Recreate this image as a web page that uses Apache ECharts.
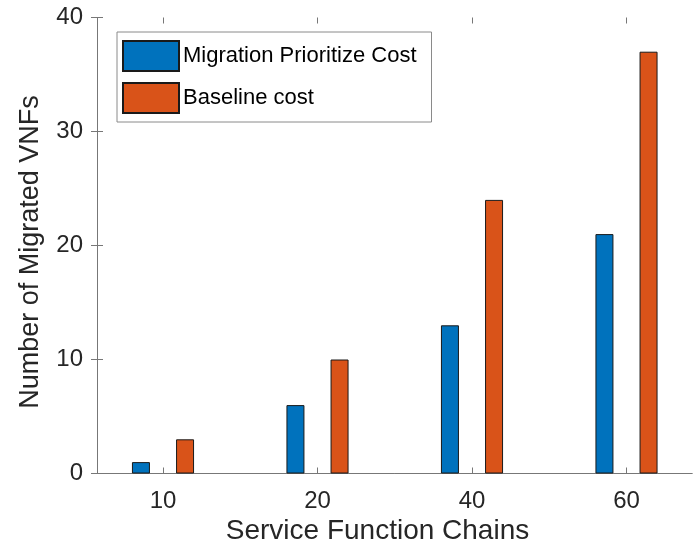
<!DOCTYPE html>
<html>
<head>
<meta charset="utf-8">
<script src="https://cdn.jsdelivr.net/npm/echarts@6/dist/echarts.min.js"></script>
<style>
  html, body { margin: 0; padding: 0; background: #fff; }
  #chart { width: 694px; height: 546px; }
</style>
</head>
<body>
<div id="chart"></div>
<script>
// Number of SFCs on the x axis
var categories = ['10', '20', '40', '60'];
// Migrated VNF counts per strategy
var migrationPrioritize = [1, 6, 13, 21];
var baselineCost = [3, 10, 24, 37];
// Y tick values
var yTicks = [0, 10, 20, 30, 40];

var seriesNames = ['Migration Prioritize Cost', 'Baseline cost'];
var FONT = 'Liberation Sans, Arial, Helvetica, sans-serif';
var TEXT = '#262626';
var AXIS = '#777777';

var plot = { left: 97, top: 17.5, width: 595, height: 456 };
// bars sit on a category scale whose band is wider than the box
var band = 154.5;
var firstCenter = 163;
var barGrid = { left: firstCenter - band / 2, top: plot.top, width: band * categories.length, height: plot.height };

var chart = echarts.init(document.getElementById('chart'), null, { renderer: 'canvas' });

var yMin = yTicks[0], yMax = yTicks[yTicks.length - 1], yStep = yTicks[1] - yTicks[0];

var option = {
  animation: false,
  backgroundColor: '#ffffff',
  textStyle: { fontFamily: FONT },
  grid: [
    { left: plot.left, top: plot.top, width: plot.width, height: plot.height,
      containLabel: false, outerBoundsMode: 'none' },
    { left: barGrid.left, top: barGrid.top, width: barGrid.width, height: barGrid.height,
      containLabel: false, outerBoundsMode: 'none' }
  ],
  xAxis: [
    // box: bottom edge
    { gridIndex: 0, type: 'value', min: 0, max: 1, position: 'bottom',
      axisLine: { show: true, lineStyle: { color: AXIS, width: 1 } },
      axisTick: { show: false }, axisLabel: { show: false }, splitLine: { show: false } },
    // box: top edge
    { gridIndex: 0, type: 'value', min: 0, max: 1, position: 'top',
      axisLine: { show: true, lineStyle: { color: AXIS, width: 1 } },
      axisTick: { show: false }, axisLabel: { show: false }, splitLine: { show: false } },
    // category scale for the bars (bottom ticks + labels)
    { gridIndex: 1, type: 'category', data: categories, position: 'bottom',
      axisLine: { show: false },
      axisTick: { show: true, inside: true, alignWithLabel: true, length: 6, lineStyle: { color: AXIS } },
      axisLabel: { show: true, color: TEXT, fontSize: 24, fontFamily: FONT, margin: 16 },
      splitLine: { show: false } },
    // top ticks
    { gridIndex: 1, type: 'category', data: categories, position: 'top',
      axisLine: { show: false },
      axisTick: { show: true, inside: true, alignWithLabel: true, length: 6, lineStyle: { color: AXIS } },
      axisLabel: { show: false }, splitLine: { show: false } }
  ],
  yAxis: [
    { gridIndex: 0, type: 'value', min: yMin, max: yMax, interval: yStep, position: 'left',
      axisLine: { show: true, lineStyle: { color: AXIS, width: 1 } },
      axisTick: { show: true, inside: true, length: 6, lineStyle: { color: AXIS } },
      axisLabel: { show: true, color: TEXT, fontSize: 24, fontFamily: FONT, margin: 14 },
      splitLine: { show: false } },
    { gridIndex: 0, type: 'value', min: yMin, max: yMax, interval: yStep, position: 'right',
      axisLine: { show: true, lineStyle: { color: AXIS, width: 1 } },
      axisTick: { show: true, inside: true, length: 6, lineStyle: { color: AXIS } },
      axisLabel: { show: false }, splitLine: { show: false } },
    { gridIndex: 1, type: 'value', min: yMin, max: yMax, show: false }
  ],
  legend: {
    show: true,
    orient: 'vertical',
    left: 117,
    top: 32,
    data: seriesNames,
    itemWidth: 56,
    itemHeight: 30,
    itemGap: 10,
    padding: [8, 15, 8, 5],
    backgroundColor: '#ffffff',
    borderColor: '#8a8a8a',
    borderWidth: 1,
    borderRadius: 0,
    icon: 'rect',
    selectedMode: false,
    textStyle: { color: '#000000', fontSize: 22, fontFamily: FONT, padding: [0, 0, 0, -1] }
  },
  series: [
    { name: seriesNames[0], type: 'bar', xAxisIndex: 2, yAxisIndex: 2,
      data: migrationPrioritize, barWidth: 18, barGap: '145%',
      itemStyle: { color: '#0072BD', borderColor: '#1a1a1a', borderWidth: 1 } },
    { name: seriesNames[1], type: 'bar', xAxisIndex: 2, yAxisIndex: 2,
      data: baselineCost, barWidth: 18, barGap: '145%',
      itemStyle: { color: '#D95319', borderColor: '#1a1a1a', borderWidth: 1 } }
  ],
  graphic: [
    { type: 'text', x: 377.5, y: 531,
      style: { text: 'Service Function Chains', fill: TEXT, fontSize: 28, fontFamily: FONT,
               align: 'center', verticalAlign: 'middle' } },
    { type: 'text', x: 31, y: 252, rotation: Math.PI / 2,
      style: { text: 'Number of Migrated VNFs', fill: TEXT, fontSize: 27, fontFamily: FONT,
               align: 'center', verticalAlign: 'middle' } }
  ]
};

chart.setOption(option);
</script>
</body>
</html>
